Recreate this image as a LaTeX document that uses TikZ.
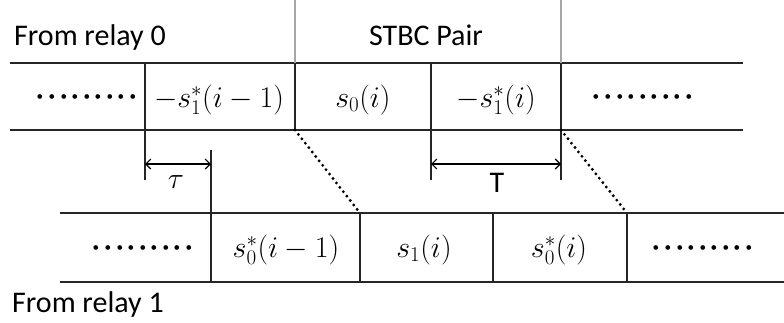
\RequirePackage{fix-cm}
\documentclass[tikz,border=0pt]{standalone}
\usepackage{amsmath}
\usepackage{fontspec}
\setmainfont{Carlito}
\usetikzlibrary{arrows.meta, positioning, calc}
\definecolor{mLine}{HTML}{262626}
\definecolor{mGray}{HTML}{A6A6A6}
\newcommand{\gapdot}{\mathord{\cdot}\kern2pt}
\newcommand{\gapdots}{{\boldmath$\gapdot\gapdot\gapdot\gapdot\gapdot\gapdot\gapdot\gapdot\mathord{\cdot}$}}

\begin{document}
\begin{tikzpicture}[x=1pt, y=-1pt,
    lbl/.style={font=\fontsize{30}{36}\selectfont, inner sep=0pt},
    slot/.style={lbl, anchor=base},
    rule/.style={line width=1.3pt, draw=mLine},
    guide/.style={line width=1.3pt, draw=mGray},
    skew/.style={line width=3.2pt, dash pattern=on 0pt off 5.6pt, line cap=round},
    span/.style={line width=1.1pt, {Straight Barb[length=5pt,width=10pt]}-{Straight Barb[length=5pt,width=10pt]}}]
    \useasboundingbox (0,0) rectangle (784,322);
    % relay 0 row
    \coordinate (r0 nw) at (10,63);   \coordinate (r0 ne) at (743,63);
    \coordinate (r0 sw) at (10,130);  \coordinate (r0 se) at (743,130);
    \foreach \x/\n in {145/a, 295/b, 431/c, 561/d} {
      \coordinate (top \n) at (\x,63);
      \coordinate (bot \n) at (\x,130);
      \coordinate (sky \n) at (\x,0);
      \coordinate (tick \n) at (\x,180);
      \coordinate (arr \n) at (\x,164);
    }
    \draw[rule] (r0 nw) -- (r0 ne);
    \draw[rule] (r0 sw) -- (r0 se);
    \draw[guide] (sky b) -- (top b);
    \draw[guide] (sky d) -- (top d);
    \draw[rule] (top a) -- (tick a);
    \draw[rule] (top b) -- (bot b);
    \draw[rule] (top c) -- (tick c);
    \draw[rule] (top d) -- (tick d);
    % relay 1 row, shifted by tau
    \coordinate (r1 nw) at (60,213);  \coordinate (r1 ne) at (784,213);
    \coordinate (r1 sw) at (60,282);  \coordinate (r1 se) at (784,282);
    \foreach \x/\n in {211/e, 360/f, 493/g, 627/h} {
      \coordinate (top \n) at (\x,213);
      \coordinate (bot \n) at (\x,282);
    }
    \coordinate (tick e) at (211,150);
    \coordinate (arr e) at (211,164);
    \draw[rule] (r1 nw) -- (r1 ne);
    \draw[rule] (r1 sw) -- (r1 se);
    \draw[rule] (tick e) -- (bot e);
    \foreach \n in {f, g, h} \draw[rule] (top \n) -- (bot \n);
    % slanted dotted links
    \draw[skew] (bot b) -- (top f);
    \draw[skew] (bot d) -- (top h);
    % delay and symbol period
    \draw[span] (arr a) -- (arr e);
    \draw[span] (arr c) -- (arr d);
    \node[lbl] (tau) at (176,182) {$\tau$};
    \node[lbl] (per) at (497,183) {T};
    % labels
    \node[lbl, anchor=base west] (rel0) at (14,45) {From relay 0};
    \node[lbl, anchor=base] (pair) at (426,45) {STBC Pair};
    \node[lbl, anchor=base west] (rel1) at (12,312) {From relay 1};
    % symbols of relay 0
    \node[slot] (u0) at (87,104) {\gapdots};
    \node[slot] (u1) at (219,107) {$-s_1^*(i-1)$};
    \node[slot] (u2) at (363,107) {$s_0(i)$};
    \node[slot] (u3) at (496,107) {$-s_1^*(i)$};
    \node[slot] (u4) at (643,104) {\gapdots};
    % symbols of relay 1
    \node[slot] (v0) at (143,255) {\gapdots};
    \node[slot] (v1) at (286,257) {$s_0^*(i-1)$};
    \node[slot] (v2) at (424,257) {$s_1(i)$};
    \node[slot] (v3) at (559,257) {$s_0^*(i)$};
    \node[slot] (v4) at (703,255) {\gapdots};
\end{tikzpicture}
\end{document}
